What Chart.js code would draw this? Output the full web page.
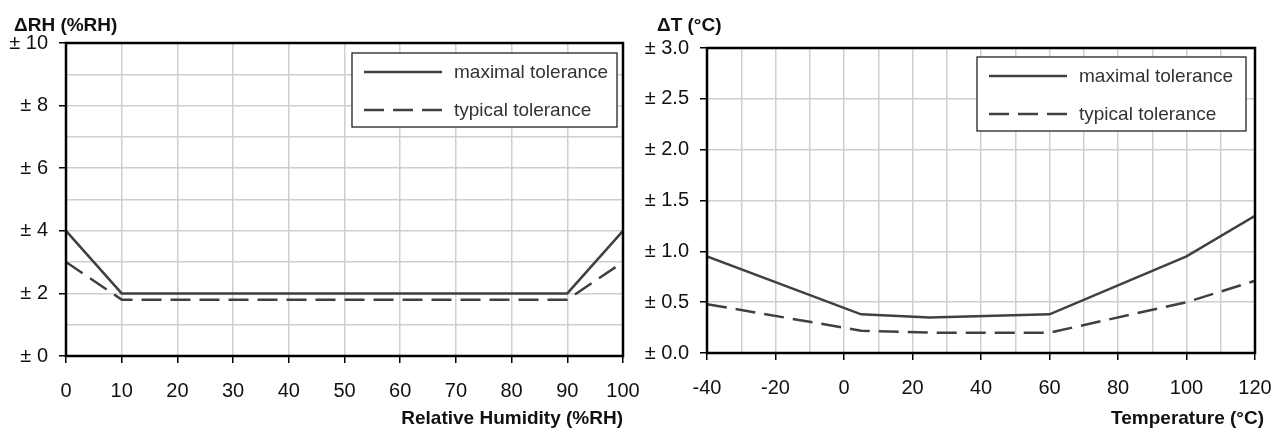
<!DOCTYPE html>
<html>
<head>
<meta charset="utf-8">
<script src="https://cdn.jsdelivr.net/npm/chart.js@4.4.1/dist/chart.umd.min.js"></script>
<style>
    html, body { margin: 0; padding: 0; background: #fff; }
    .panel { position: absolute; top: 0; height: 430px; }
    #left-panel { left: 0; width: 650px; z-index: 2; }
    #right-panel { left: 637px; width: 637px; z-index: 1; }
</style>
</head>
<body>
<div class="panel" id="left-panel"><canvas id="rhChart" width="650" height="430"></canvas></div>
<div class="panel" id="right-panel"><canvas id="tChart" width="637" height="430"></canvas></div>
<script>
// humidity tolerance (left)
const rhX = [0, 10, 90, 100];
const rhMax = [4, 2, 2, 4];
const rhTyp = [3, 1.8, 1.8, 3];

// temperature tolerance (right)
const tX = [-40, 5, 25, 60, 100, 120];
const tMax = [0.95, 0.38, 0.35, 0.38, 0.95, 1.35];
const tTyp = [0.48, 0.22, 0.2, 0.2, 0.5, 0.71];

const seriesLabels = ['maximal tolerance', 'typical tolerance'];

const FONT = "'Liberation Sans Narrow', 'Arial Narrow', 'Liberation Sans', Arial, sans-serif";
const LINE = '#404040';
const GRID = '#cfcfcf';

function toPoints(xs, ys) {
    return xs.map((x, i) => ({ x: x, y: ys[i] }));
}

function makeDatasets(xs, maxVals, typVals) {
    return [
        { label: seriesLabels[0], data: toPoints(xs, maxVals), borderColor: LINE, borderWidth: 2.5, pointRadius: 0, tension: 0 },
        { label: seriesLabels[1], data: toPoints(xs, typVals), borderColor: LINE, borderWidth: 2.5, borderDash: [20, 9], pointRadius: 0, tension: 0 }
    ];
}

// frame, axis titles and boxed legend
const decorPlugin = {
    id: 'decor',
    afterDraw(chart, args, opts) {
        const ctx = chart.ctx;
        const a = chart.chartArea;
        ctx.save();
        ctx.strokeStyle = '#000';
        ctx.lineWidth = 2.5;
        ctx.strokeRect(a.left, a.top, a.right - a.left, a.bottom - a.top);

        ctx.fillStyle = '#111';
        ctx.font = 'bold 19px ' + FONT;
        ctx.textBaseline = 'alphabetic';
        ctx.textAlign = 'left';
        ctx.fillText(opts.yTitle, a.left + opts.yTitleDx, 31);
        ctx.textAlign = 'right';
        ctx.fillText(opts.xTitle, a.right + opts.xTitleDx, 424);

        // legend box
        const w = opts.legendW, h = 74;
        const bx = a.right - opts.legendRight - w, by = a.top + opts.legendTop;
        ctx.fillStyle = '#fff';
        ctx.fillRect(bx, by, w, h);
        ctx.strokeStyle = '#222';
        ctx.lineWidth = 1.3;
        ctx.strokeRect(bx, by, w, h);
        chart.data.datasets.forEach((ds, i) => {
            const ly = by + 19 + i * 38;
            ctx.strokeStyle = ds.borderColor;
            ctx.lineWidth = ds.borderWidth;
            ctx.setLineDash(ds.borderDash || []);
            ctx.beginPath();
            ctx.moveTo(bx + 12, ly);
            ctx.lineTo(bx + 90, ly);
            ctx.stroke();
            ctx.setLineDash([]);
            ctx.fillStyle = '#333';
            ctx.font = '19px ' + FONT;
            ctx.textAlign = 'left';
            ctx.textBaseline = 'middle';
            ctx.fillText(ds.label, bx + 102, ly + 1);
        });
        ctx.restore();
    }
};

function buildChart(id, datasets, cfg) {
    return new Chart(document.getElementById(id), {
        type: 'line',
        data: { datasets: datasets },
        plugins: [decorPlugin],
        options: {
            responsive: false,
            animation: false,
            layout: { padding: { left: 0, top: cfg.top, right: cfg.right, bottom: 0 } },
            plugins: {
                legend: { display: false },
                tooltip: { enabled: false },
                decor: cfg.decor
            },
            scales: {
                x: {
                    type: 'linear',
                    min: cfg.xMin, max: cfg.xMax,
                    afterFit: s => { s.height = cfg.xHeight; s.paddingLeft = 0; s.paddingRight = 0; },
                    ticks: {
                        stepSize: 10,
                        autoSkip: false,
                        maxRotation: 0,
                        padding: 16,
                        color: '#111',
                        font: { family: FONT, size: 20 },
                        callback: v => (v % cfg.xLabelStep === 0 ? String(v) : '')
                    },
                    grid: {
                        color: GRID, lineWidth: 1.5, tickLength: 7, tickWidth: 1.5,
                        tickColor: c => (c.tick && c.tick.value % cfg.xLabelStep === 0 ? '#000' : 'rgba(0,0,0,0)')
                    },
                    border: { display: false }
                },
                y: {
                    min: cfg.yMin, max: cfg.yMax,
                    afterFit: s => { s.width = cfg.yWidth; s.paddingTop = 0; s.paddingBottom = 0; },
                    ticks: {
                        stepSize: cfg.yStep,
                        autoSkip: false,
                        padding: 11,
                        color: '#111',
                        font: { family: FONT, size: 20 },
                        callback: cfg.yLabel
                    },
                    grid: {
                        color: GRID, lineWidth: 1.5, tickLength: 7, tickWidth: 1.5,
                        tickColor: c => (c.tick && cfg.yLabel(c.tick.value) !== '' ? '#000' : 'rgba(0,0,0,0)')
                    },
                    border: { display: false }
                }
            }
        }
    });
}

document.addEventListener('DOMContentLoaded', () => {
    buildChart('rhChart', makeDatasets(rhX, rhMax, rhTyp), {
        top: 43, right: 27, xHeight: 74, yWidth: 66,
        xMin: 0, xMax: 100, xLabelStep: 10,
        yMin: 0, yMax: 10, yStep: 1,
        yLabel: v => (v % 2 === 0 ? '± ' + v : ''),
        decor: { yTitle: 'ΔRH (%RH)', yTitleDx: -52, xTitle: 'Relative Humidity (%RH)', xTitleDx: 0, legendW: 265, legendRight: 6, legendTop: 10 }
    });
    buildChart('tChart', makeDatasets(tX, tMax, tTyp), {
        top: 48, right: 19, xHeight: 77, yWidth: 70,
        xMin: -40, xMax: 120, xLabelStep: 20,
        yMin: 0, yMax: 3, yStep: 0.5,
        yLabel: v => '± ' + Number(v).toFixed(1),
        decor: { yTitle: 'ΔT (°C)', yTitleDx: -50, xTitle: 'Temperature (°C)', xTitleDx: 9, legendW: 269, legendRight: 9, legendTop: 9 }
    });
});
</script>
</body>
</html>
